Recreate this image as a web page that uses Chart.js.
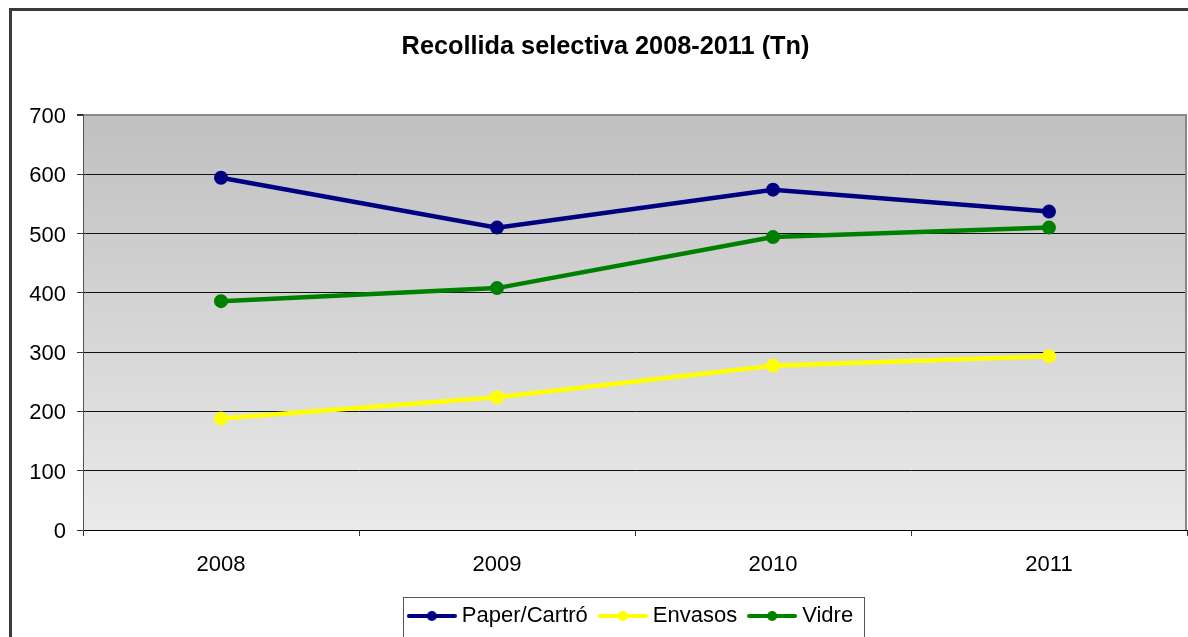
<!DOCTYPE html>
<html>
<head>
<meta charset="utf-8">
<script src="https://cdn.jsdelivr.net/npm/chart.js@4.4.1/dist/chart.umd.min.js"></script>
<style>
  html, body { margin: 0; padding: 0; background: #ffffff; }
  #wrap { position: relative; width: 1188px; height: 637px; overflow: hidden; }
  canvas { position: absolute; left: 0; top: 0; }
</style>
</head>
<body>
<div id="wrap"><canvas id="c" width="1188" height="637"></canvas></div>
<script>
const categories = ['2008', '2009', '2010', '2011'];
const paperCarto = [594, 510, 574, 537];
const envasos = [188, 224, 277, 293];
const vidre = [386, 408, 494, 510];
const seriesNames = ['Paper/Cartró', 'Envasos', 'Vidre'];
const seriesColors = ['#000080', '#ffff00', '#008000'];
const yTicks = [0, 100, 200, 300, 400, 500, 600, 700];
const titleText = 'Recollida selectiva 2008-2011 (Tn)';

const FONT = '"Liberation Sans", Arial, sans-serif';

function legendIcon(color) {
  const cv = document.createElement('canvas');
  cv.width = 50; cv.height = 12;
  const g = cv.getContext('2d');
  g.strokeStyle = color; g.lineWidth = 4; g.lineCap = 'round';
  g.beginPath(); g.moveTo(2, 6); g.lineTo(48, 6); g.stroke();
  g.fillStyle = color;
  g.beginPath(); g.arc(25, 6, 5, 0, Math.PI * 2); g.fill();
  return cv;
}
const legendIcons = seriesColors.map(legendIcon);

const framePlugin = {
  id: 'frame',
  afterLayout(chart) {
    const lg = chart.legend;
    if (lg) { lg.left -= 2; lg.right -= 2; }
  },
  beforeDraw(chart) {
    const ctx = chart.ctx, a = chart.chartArea;
    ctx.save();
    ctx.fillStyle = '#3a3a3a';
    ctx.fillRect(9, 8, chart.width, 3);
    ctx.fillRect(9, 8, 3, chart.height);
    const grd = ctx.createLinearGradient(0, a.top, 0, a.bottom);
    grd.addColorStop(0, '#c0c0c0');
    grd.addColorStop(1, '#eaeaea');
    ctx.fillStyle = grd;
    ctx.fillRect(a.left, a.top, a.right - a.left, a.bottom - a.top);
    ctx.restore();
  },
  afterDraw(chart) {
    const ctx = chart.ctx, a = chart.chartArea;
    ctx.save();
    ctx.strokeStyle = '#888888';
    ctx.lineWidth = 2;
    ctx.beginPath();
    ctx.moveTo(a.right - 1, a.top);
    ctx.lineTo(a.right - 1, a.bottom);
    ctx.stroke();
    const lg = chart.legend;
    if (lg && lg.legendHitBoxes && lg.legendHitBoxes.length) {
      const hb = lg.legendHitBoxes;
      const first = hb[0], last = hb[hb.length - 1];
      const x0 = first.left - 10, x1 = last.left + last.width + 11;
      ctx.strokeStyle = '#555555';
      ctx.lineWidth = 1;
      ctx.strokeRect(Math.round(x0) + 0.5, lg.top + 8.5, Math.round(x1 - x0), 40);
    }
    ctx.restore();
  }
};

const datasets = [paperCarto, envasos, vidre].map((vals, i) => ({
  label: seriesNames[i],
  data: vals,
  borderColor: seriesColors[i],
  backgroundColor: seriesColors[i],
  pointBackgroundColor: seriesColors[i],
  pointBorderColor: seriesColors[i],
  borderWidth: 4.5,
  pointRadius: 6,
  pointBorderWidth: 2,
  tension: 0,
  fill: false
}));

new Chart(document.getElementById('c'), {
  type: 'line',
  data: { labels: categories, datasets },
  plugins: [framePlugin],
  options: {
    responsive: false,
    animation: false,
    devicePixelRatio: 1,
    layout: { autoPadding: false, padding: { left: 24, right: 1, top: 0, bottom: 0 } },
    plugins: {
      tooltip: { enabled: false },
      title: {
        display: true,
        text: titleText,
        color: '#000000',
        font: { family: FONT, size: 25.3, weight: 'bold', lineHeight: 1.2 },
        padding: { top: 32, bottom: 52.6 }
      },
      legend: {
        display: true,
        position: 'bottom',
        fullSize: false,
        labels: {
          usePointStyle: true,
          pointStyleWidth: 38,
          padding: 16,
          color: '#000000',
          font: { family: FONT, size: 22 },
          generateLabels(chart) {
            const items = Chart.defaults.plugins.legend.labels.generateLabels(chart);
            items.forEach((it, i) => { it.pointStyle = legendIcons[i]; });
            return items;
          }
        }
      }
    },
    scales: {
      x: {
        type: 'category',
        offset: true,
        afterFit(scale) { scale.height = 59; },
        grid: {
          offset: true,
          drawOnChartArea: false,
          drawTicks: true,
          tickLength: 6,
          color: '#333333'
        },
        border: { display: true, color: '#000000', width: 1 },
        ticks: {
          color: '#000000',
          font: { family: FONT, size: 22 },
          padding: 16
        }
      },
      y: {
        min: 0,
        max: 700,
        afterFit(scale) { scale.width = 59; },
        afterBuildTicks(scale) { scale.ticks = yTicks.map(v => ({ value: v })); },
        grid: {
          drawTicks: true,
          tickLength: 6,
          color(ctx) { return ctx.tick && ctx.tick.value === 700 ? '#8a8a8a' : '#111111'; },
          lineWidth(ctx) { return ctx.tick && ctx.tick.value === 700 ? 2 : 1; },
          tickColor: '#333333'
        },
        border: { display: true, color: '#555555', width: 1 },
        ticks: {
          color: '#000000',
          font: { family: FONT, size: 22 },
          padding: 11,
          labelOffset: 2
        }
      }
    }
  }
});
</script>
</body>
</html>
